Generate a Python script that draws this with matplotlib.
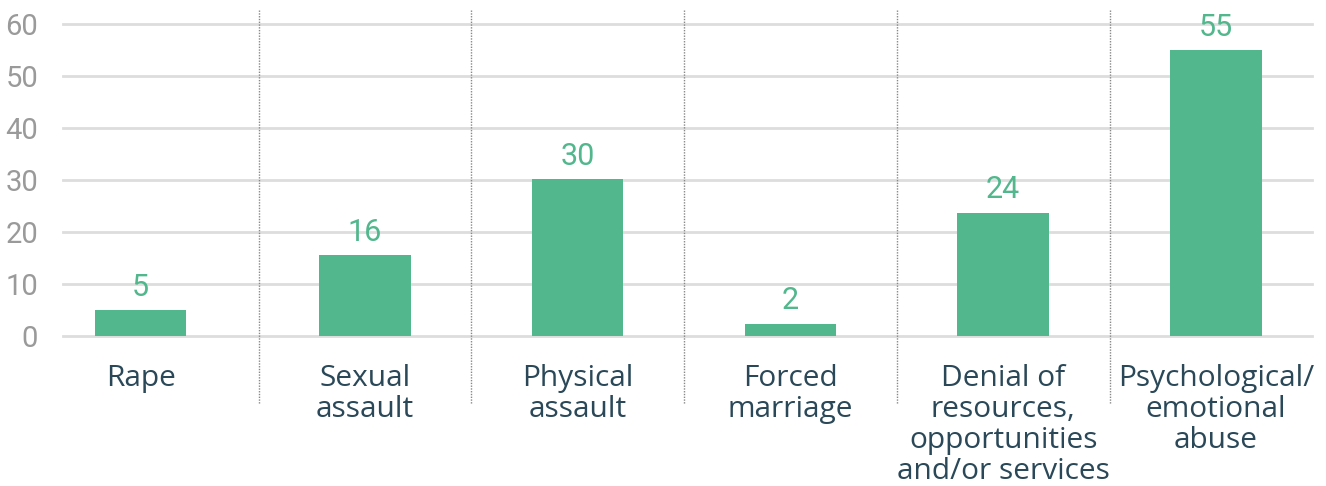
import matplotlib
matplotlib.use("Agg")
import matplotlib.pyplot as plt
import numpy as np

categories = ["Rape", "Sexual\nassault", "Physical\nassault", "Forced\nmarriage",
              "Denial of\nresources,\nopportunities\nand/or services",
              "Psychological/\nemotional\nabuse"]
values = [5.0, 15.6, 30.2, 2.4, 23.7, 55.0]
value_labels = ["5", "16", "30", "2", "24", "55"]
yticks = [0, 10, 20, 30, 40, 50, 60]

green = "#52b78d"
dark = "#2a4858"
gray = "#9a9a9a"
numfont = "Roboto"

fig = plt.figure(figsize=(13.26, 4.86), dpi=100)
ax = fig.add_axes([63/1326, (486-336)/486, (1312-63)/1326, (336-24)/486])

pos = np.arange(len(categories), dtype=float)
pos[0] -= 0.055
ax.bar(pos, values, width=0.43, color=green, zorder=3)

ax.set_xlim(-0.42, 5.452)
ax.set_ylim(0, 60)
ax.set_yticks(yticks)
ax.set_yticklabels([str(t) for t in yticks], fontsize=21, color=gray, family=numfont)
ax.tick_params(axis="y", length=0, pad=18)
ax.set_xticks([])
for t in yticks:
    ax.axhline(t, color="#dddddd", lw=2, zorder=1, clip_on=False)
for s in ax.spines.values():
    s.set_visible(False)

for x, v, lab in zip(pos, values, value_labels):
    ax.annotate(lab, (x, v), xytext=(0, 6), textcoords="offset points",
                ha="center", va="bottom", fontsize=22, color=green, family=numfont)

for x, c in zip(pos, categories):
    ax.annotate(c, (x, 0), xytext=(0, -20), textcoords="offset points",
                ha="center", va="top", fontsize=21.5, color=dark, family="Open Sans",
                linespacing=1.09, annotation_clip=False)

for i in range(len(categories) - 1):
    xs = i + 0.5
    ax.plot([xs, xs], [62.6, -13], color="#888888", lw=1, ls=(0, (1, 1)),
            clip_on=False, zorder=2)

fig.savefig("out.png", dpi=100)
